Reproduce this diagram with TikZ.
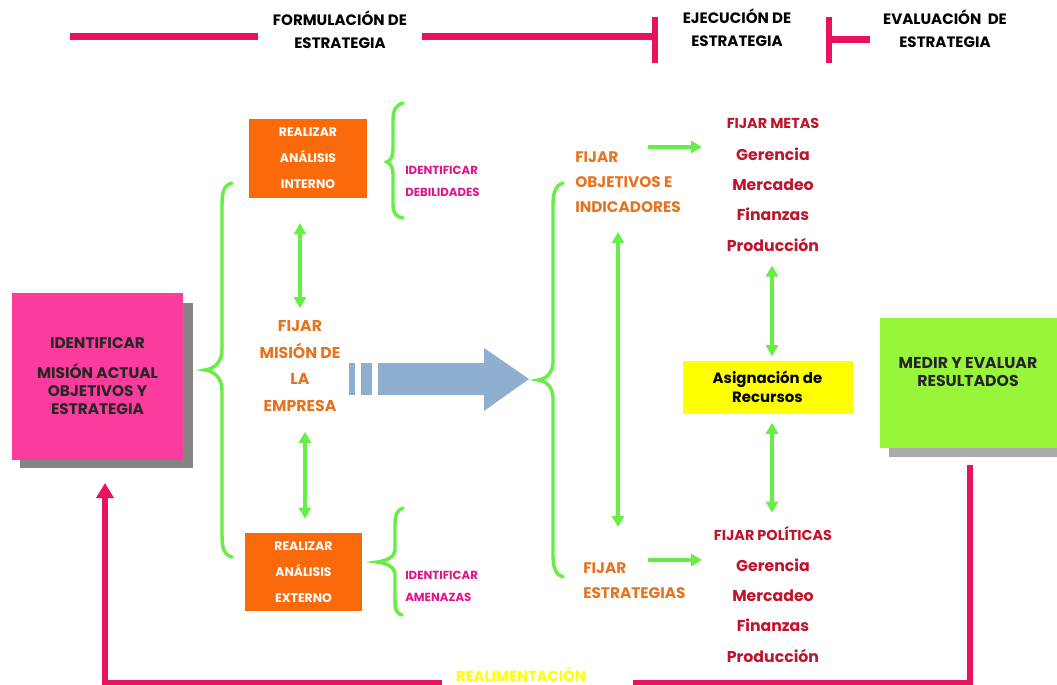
\documentclass[tikz,border=0pt]{standalone}
\usepackage{fontspec}
\setmainfont{Poppins}
\usetikzlibrary{arrows.meta}

% palette
\definecolor{barpink}{HTML}{E8125F}
\definecolor{boxpink}{HTML}{FA3C9C}
\definecolor{boxorange}{HTML}{FA6A0A}
\definecolor{linegreen}{HTML}{66EE44}
\definecolor{txtorange}{HTML}{E8731E}
\definecolor{txtred}{HTML}{C0142C}
\definecolor{txtmagenta}{HTML}{E0148C}
\definecolor{boxyellow}{HTML}{FFFF00}
\definecolor{boxgreen}{HTML}{99F53A}
\definecolor{arrowblue}{HTML}{8FAFD0}
\definecolor{shadowgray}{HTML}{858585}

\begin{document}
\begin{tikzpicture}[x=0.75pt,y=-0.75pt,
  font=\bfseries,
  txt/.style={inner sep=0pt, align=center},
  bar/.style={barpink, line width=5.25pt},
  fb/.style={barpink, line width=4.5pt},
  garrow/.style={linegreen, line width=3pt,
    {Triangle[width=9pt,length=8.25pt]}-{Triangle[width=9pt,length=8.25pt]}},
  gone/.style={linegreen, line width=3pt, -{Triangle[width=9pt,length=8.25pt]}},
  brace/.style={linegreen, line width=2.6pt, line cap=round},
  obox/.style={fill=boxorange, draw=none, minimum width=88.5pt, minimum height=59.25pt,
    text=white, align=center, inner sep=0pt,
    font=\bfseries\fontsize{9.3}{19.5}\selectfont},
  toplbl/.style={txt, text=black, font=\bfseries\fontsize{11.3}{17.5}\selectfont},
  sidelbl/.style={txt, align=left, anchor=west, text=txtmagenta,
    font=\bfseries\fontsize{8.8}{16.5}\selectfont},
  steplbl/.style={txt, align=left, anchor=west, text=txtorange,
    font=\bfseries\fontsize{11.5}{18.75}\selectfont},
  headred/.style={txt, text=txtred, font=\bfseries\fontsize{10.8}{13}\selectfont},
  listred/.style={txt, text=txtred, font=\bfseries\fontsize{11.8}{22.7}\selectfont},
]
\useasboundingbox[fill=white] (0,0) rectangle (1057,685);

% ---- phase bar along the top ----
\node[toplbl] (formul) at (340,30) {FORMULACIÓN DE\\ESTRATEGIA};
\node[toplbl] (ejec) at (737,28) {EJECUCIÓN DE\\ESTRATEGIA};
\node[toplbl] (evalu) at (945,29) {EVALUACIÓN \ DE\\ESTRATEGIA};
\coordinate (t0) at (70,37);
\coordinate (t1) at (258,37);
\coordinate (t2) at (422,37);
\coordinate (t3) at (655,37);
\coordinate (t4) at (829,40);
\coordinate (t5) at (870,40);
\draw[bar] (t0) -- (t1);
\draw[bar] (t2) -- (t3);
\draw[barpink, line width=4.5pt] (655,17) -- (655,63);
\draw[barpink, line width=4.5pt] (829,17) -- (829,63);
\draw[bar] (t4) -- (t5);

% ---- mission box with drop shadow ----
\fill[shadowgray] (20,303) rectangle (193,468);
\node[fill=boxpink, minimum width=128.25pt, minimum height=125.25pt, inner sep=0pt,
  align=center, font=\bfseries\fontsize{11.5}{13.5}\selectfont, text=black!85]
  (ident) at (97.5,376.5) {IDENTIFICAR\\[9pt]MISIÓN ACTUAL\\OBJETIVOS Y\\ESTRATEGIA};

% large left brace
\draw[brace] (232,183) .. controls (224,185) and (222,192) .. (222,205)
  -- (222,350) .. controls (222,362) and (214,369) .. (205,370)
  .. controls (214,371) and (222,378) .. (222,390)
  -- (222,535) .. controls (222,548) and (224,555) .. (232,557);

% ---- internal / external analysis ----
\node[obox] (intern) at (308,158.5) {REALIZAR\\ANÁLISIS\\INTERNO};
\node[obox, minimum width=87.75pt, minimum height=58.5pt] (extern) at (303.5,572)
  {REALIZAR\\ANÁLISIS\\EXTERNO};

\draw[brace] (403,103) .. controls (396,105) and (393,110) .. (393,120)
  -- (393,150) .. controls (393,157) and (390,161) .. (387,162)
  .. controls (390,163) and (393,167) .. (393,174)
  -- (393,205) .. controls (393,213) and (396,217) .. (403,218);
\node[sidelbl] (debil) at (405,181.5) {IDENTIFICAR\\DEBILIDADES};

\draw[brace] (403,508) .. controls (397,510) and (395,515) .. (395,525)
  -- (395,550) .. controls (395,557) and (386,561) .. (377,562)
  .. controls (386,563) and (395,567) .. (395,574)
  -- (395,600) .. controls (395,610) and (397,614) .. (402,615);
\node[sidelbl] (amen) at (405,586.5) {IDENTIFICAR\\AMENAZAS};

% ---- company mission ----
\node[txt, text=txtorange, font=\bfseries\fontsize{11.8}{20}\selectfont]
  (mision) at (300,366) {FIJAR\\MISIÓN DE\\LA\\EMPRESA};
\draw[garrow, shorten <=18.75pt, shorten >=9pt] (intern.south -| mision.north) -- (mision.north);
\draw[garrow, shorten <=15pt, shorten >=10.5pt] ([xshift=3.75pt]mision.south) -- ([xshift=3.75pt]mision.south |- extern.north);

% ---- block arrow ----
\fill[arrowblue] (349,363) rectangle (355,395);
\fill[arrowblue] (361,363) rectangle (372,395);
\fill[arrowblue] (378,363) -- (484,363) -- (484,348) -- (529,379)
  -- (484,411) -- (484,395) -- (378,395) -- cycle;

% middle brace
\draw[brace] (563,183) .. controls (556,185) and (553,192) .. (553,205)
  -- (553,362) .. controls (553,373) and (546,379) .. (538,380)
  .. controls (546,381) and (553,387) .. (553,398)
  -- (553,555) .. controls (553,568) and (556,575) .. (563,577);

% ---- objectives and strategies ----
\node[steplbl] (objet) at (575,182) {FIJAR\\OBJETIVOS E\\INDICADORES};
\node[steplbl] (estrat) at (583,580.5) {FIJAR\\ESTRATEGIAS};
\coordinate (v0) at (618,232);
\coordinate (v1) at (618,527);
\draw[garrow] (v0) -- (v1);

\coordinate (m0) at (648,147);
\coordinate (m1) at (702,147);
\draw[gone] (m0) -- (m1);
\coordinate (p0) at (648,560);
\coordinate (p1) at (702,560);
\draw[gone] (p0) -- (p1);

\node[headred] (metas) at (773,123) {FIJAR METAS};
\node[listred] (metlist) at (773,199.5) {Gerencia\\Mercadeo\\Finanzas\\Producción};
\node[headred] (polit) at (773,534) {FIJAR POLÍTICAS};
\node[listred] (pollist) at (773,610.5) {Gerencia\\Mercadeo\\Finanzas\\Producción};

% ---- resource allocation ----
\node[fill=boxyellow, minimum width=127.5pt, minimum height=39.75pt, inner sep=0pt,
  align=center, font=\bfseries\fontsize{11.2}{14.5}\selectfont]
  (recurs) at (767.5,387) {Asignación de\\Recursos};
\draw[garrow, shorten <=10.5pt, shorten >=3pt] ([xshift=-0.75pt]metlist.south) -- ([xshift=-0.75pt]metlist.south |- recurs.north);
\draw[garrow, shorten <=6.75pt, shorten >=10.5pt] ([xshift=-0.75pt]metlist.south |- recurs.south) -- ([xshift=-0.75pt]metlist.south |- polit.north);

% ---- evaluation box with drop shadow ----
\fill[shadowgray!70] (889,328) rectangle (1057,457);
\node[fill=boxgreen, minimum width=132.75pt, minimum height=97.5pt, inner sep=0pt]
  (medir) at (968.5,383) {};
\node[txt, font=\bfseries\fontsize{11.8}{14}\selectfont, text=black!85]
  (medtxt) at (968,372) {MEDIR Y EVALUAR\\RESULTADOS};

% ---- feedback loop ----
\node[txt, text=boxyellow, font=\bfseries\fontsize{11}{12}\selectfont]
  (realim) at (521,674) {REALIMENTACIÓN};
\coordinate (r0) at (970,465);
\coordinate (r1) at (970,683);
\coordinate (r2) at (633,683);
\coordinate (r3) at (442,683);
\coordinate (r4) at (105,683);
\coordinate (r5) at (105,483);
\draw[fb] (r0) -- (r1) -- (r2);
\draw[fb, -{Triangle[width=12.75pt,length=11.25pt]}] (r3) -- (r4) -- (r5);
\end{tikzpicture}
\end{document}
